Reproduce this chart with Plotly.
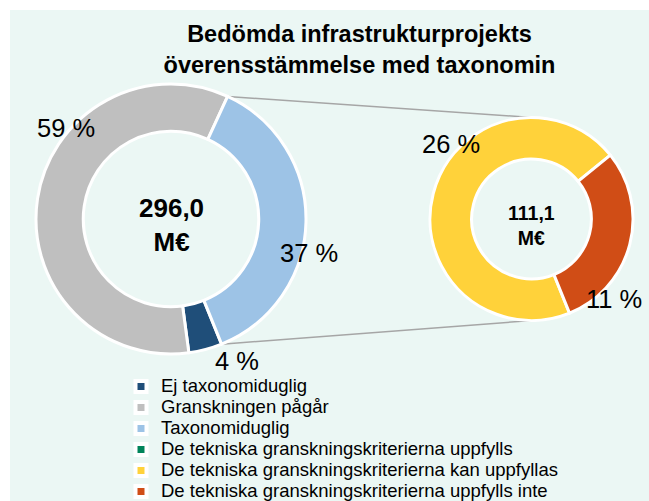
import math
import plotly.graph_objects as go

W, H = 649, 501

# vänster ring: alla bedömda projekt (andel av totalt, %)
kategorier = ["Ej taxonomiduglig", "Granskningen pågår", "Taxonomiduglig"]
andelar = [4, 59, 37]
farger = ["#1F4E79", "#BFBFBF", "#9DC3E6"]

# höger ring: de taxonomidugliga projekten uppdelade (andel av totalt, %)
kriterier = [
    "De tekniska granskningskriterierna uppfylls",
    "De tekniska granskningskriterierna kan uppfyllas",
    "De tekniska granskningskriterierna uppfylls inte",
]
kriterier_andelar = [0, 26, 11]
kriterier_farger = ["#00845A", "#FFD23A", "#D04D16"]

totalt = 296.0  # M€
taxonomiduglig_belopp = 111.1  # M€

titel = "Bedömda infrastrukturprojekts<br>överensstämmelse med taxonomin"
FONT = "Liberation Sans, Arial, sans-serif"
ROTATION = 158

# placering av ringarna i pixlar (mitt x, mitt y, radie)
vanster = (171, 219, 135)
hoger = (531.5, 219, 101.5)


def doman(ring):
    cx, cy, r = ring
    return dict(x=[(cx - r) / W, (cx + r) / W], y=[1 - (cy + r) / H, 1 - (cy - r) / H])


def punkt(ring, vinkel, faktor=1.0):
    # vinkel medurs från klockan 12, returnerar papperskoordinater
    cx, cy, r = ring
    a = math.radians(vinkel)
    return (cx + r * faktor * math.sin(a)) / W, 1 - (cy - r * faktor * math.cos(a)) / H


def fmt(v):
    return f"{v:.1f}".replace(".", ",")


fig = go.Figure()
fig.add_trace(go.Pie(
    labels=kategorier, values=andelar, marker=dict(colors=farger, line=dict(color="white", width=3)),
    hole=0.65, sort=False, direction="clockwise", rotation=ROTATION,
    textinfo="none", hoverinfo="label+percent", showlegend=False, domain=doman(vanster),
))
fig.add_trace(go.Pie(
    labels=kriterier, values=kriterier_andelar,
    marker=dict(colors=kriterier_farger, line=dict(color="white", width=3)),
    hole=0.59, sort=False, direction="clockwise", rotation=ROTATION,
    textinfo="none", hoverinfo="label+percent", showlegend=False, domain=doman(hoger),
))

# förklaring
for namn, farg in zip(kategorier + kriterier, farger + kriterier_farger):
    fig.add_trace(go.Scatter(
        x=[None], y=[None], mode="markers",
        name=f'<span style="font-size:18.5px">{namn}</span>',
        marker=dict(symbol="square", size=11, color=farg, line=dict(color="white", width=4)),
    ))

# procentetiketter (vinkel, radiefaktor)
etikett_vanster = [(155, 1.16), (311, 1.03), (104, 1.05)]
etikett_hoger = [None, (313, 1.08), (134, 1.13)]
annotations = []
for ring, varden, lagen in [(vanster, andelar, etikett_vanster), (hoger, kriterier_andelar, etikett_hoger)]:
    for v, lage in zip(varden, lagen):
        if lage is None or v == 0:
            continue
        x, y = punkt(ring, *lage)
        annotations.append(dict(x=x, y=y, xref="paper", yref="paper", xanchor="center", yanchor="middle",
                                text=f"{v} %", showarrow=False, font=dict(size=25.5, color="black")))

for ring, belopp, storlek in [(vanster, totalt, 26), (hoger, taxonomiduglig_belopp, 19.5)]:
    x, y = punkt(ring, 0, 0)
    annotations.append(dict(x=x, y=y, xref="paper", yref="paper", xanchor="center", yanchor="middle",
                            yshift=-6, text=f"<b>{fmt(belopp)}<br>M€</b>", showarrow=False,
                            font=dict(size=storlek, color="black")))

# förbindelselinjer från taxonomidugliga sektorn till höger ring
start_taxo = ROTATION + (andelar[0] + andelar[1]) / sum(andelar) * 360
slut_taxo = ROTATION + 360
shapes = [dict(type="rect", xref="paper", yref="paper", x0=10 / W, x1=1, y0=0, y1=1 - 10 / H,
               fillcolor="#EBF7F4", line=dict(width=0), layer="below")]
for a_v, a_h in [(start_taxo, 0), (slut_taxo, 180)]:
    x0, y0 = punkt(vanster, a_v)
    x1, y1 = punkt(hoger, a_h)
    shapes.append(dict(type="line", xref="paper", yref="paper", x0=x0, y0=y0, x1=x1, y1=y1,
                       line=dict(color="#A6A6A6", width=1.5), layer="below"))

fig.update_layout(
    width=W, height=H, margin=dict(l=0, r=0, t=0, b=0, autoexpand=False),
    paper_bgcolor="white", plot_bgcolor="rgba(0,0,0,0)",
    xaxis=dict(visible=False), yaxis=dict(visible=False),
    font=dict(family=FONT, color="black"),
    title=dict(text=f"<b>{titel}</b>", x=359.5 / W, xanchor="center", y=1 - 42 / H, yanchor="middle",
               font=dict(size=23.5, color="black")),
    legend=dict(x=121 / W, y=1 - 371 / H, xanchor="left", yanchor="top", font=dict(size=13.85),
                bgcolor="rgba(0,0,0,0)", itemwidth=30),
    shapes=shapes, annotations=annotations,
)

fig.write_html("out.html", config={"displayModeBar": False},
               post_script="document.body.style.margin='0';")
